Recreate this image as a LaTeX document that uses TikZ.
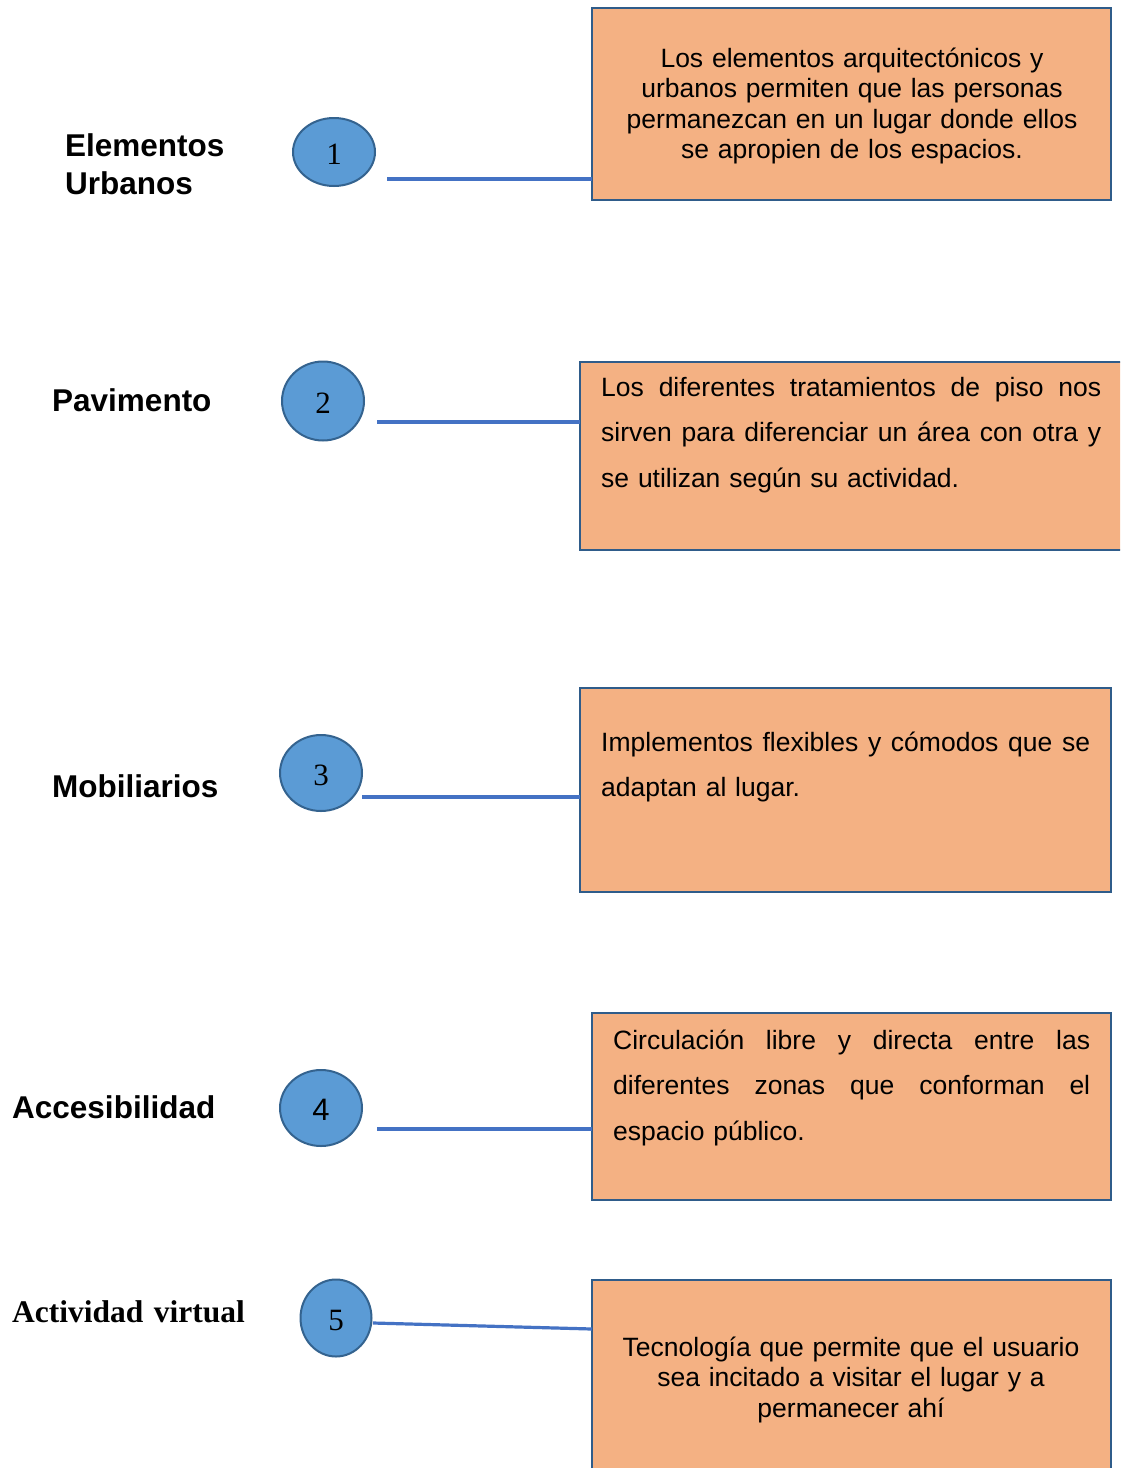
\documentclass[tikz,border=0pt]{standalone}
\usepackage{fontspec}
\setmainfont{Liberation Sans}
\newfontfamily\timesf{Liberation Serif}
\usetikzlibrary{shapes.geometric}
\definecolor{peach}{HTML}{F4B183}
\definecolor{boxline}{HTML}{2F5C8A}
\definecolor{circfill}{HTML}{5B9BD5}
\definecolor{circline}{HTML}{34638F}
\definecolor{connblue}{HTML}{4472C4}
\newcommand\jline[2]{\makebox[#1][s]{\spaceskip=0.25em plus 1fil\xspaceskip=0.25em plus 1fil\relax #2}}
\newcommand\lowdigit[1]{\raisebox{-2pt}[\height][0pt]{#1}}
\begin{document}
\begin{tikzpicture}[x=1pt,y=-1pt,
  infobox/.style={draw=boxline, line width=2pt, fill=peach, anchor=north west, inner sep=0, outer sep=0},
  num/.style={ellipse, draw=circline, line width=2pt, fill=circfill, inner sep=0, font=\timesf\fontsize{31}{34}\selectfont},
  connector/.style={draw=connblue, line width=3.2pt},
  lbl/.style={anchor=base west, inner sep=0, text width=260pt, align=left, font=\fontsize{31.5}{38}\selectfont\bfseries},
  ctext/.style={anchor=base, inner sep=0, text width=490pt, align=center, font=\fontsize{26.5}{30.5}\selectfont},
  jtext/.style={anchor=base west, inner sep=0, align=left, font=\fontsize{26.5}{45.7}\selectfont}]
\useasboundingbox (0,0) rectangle (1120,1468);
\clip (0,0) rectangle (1120,1468);
\fill[white] (0,0) rectangle (1120,1468);

% boxes
\node[infobox, minimum width=519pt, minimum height=192pt] (b1) at (592,8) {};
\node[infobox, minimum width=545pt, minimum height=188pt] (b2) at (580,362) {};
\node[infobox, minimum width=531pt, minimum height=204pt] (b3) at (580,688) {};
\node[infobox, minimum width=519pt, minimum height=187pt] (b4) at (592,1013) {};
\node[infobox, minimum width=519pt, minimum height=205pt] (b5) at (592,1280) {};

% box texts
\node[ctext] (t1) at (852,67) {Los elementos arquitectónicos y\\urbanos permiten que las personas\\permanezcan en un lugar donde ellos\\se apropien de los espacios.};
\node[jtext, text width=500pt] (t2) at (601,396) {\jline{500pt}{Los diferentes tratamientos de piso nos}\\\jline{500pt}{sirven para diferenciar un área con otra y}\\se utilizan según su actividad.};
\node[jtext, text width=489pt] (t3) at (601,751) {\jline{489pt}{Implementos flexibles y cómodos que se}\\adaptan al lugar.};
\node[jtext, text width=477pt] (t4) at (613,1049) {\jline{477pt}{Circulación libre y directa entre las}\\\jline{477pt}{diferentes zonas que conforman el}\\espacio público.};
\node[ctext] (t5) at (851,1356) {Tecnología que permite que el usuario\\sea incitado a visitar el lugar y a\\permanecer ahí};

% labels
\node[lbl] (l1) at (65,156) {Elementos\\Urbanos};
\node[lbl] (l2) at (52,411) {Pavimento};
\node[lbl] (l3) at (52,797) {Mobiliarios};
\node[lbl] (l4) at (12,1118) {Accesibilidad};
\node[lbl, font=\timesf\fontsize{31.5}{38}\selectfont\bfseries] (l5) at (12,1322) {Actividad virtual};

% circles
\node[num, minimum width=82pt, minimum height=68pt] (c1) at (334,152) {\lowdigit{1}};
\node[num, minimum width=82pt, minimum height=79pt] (c2) at (323,401) {\lowdigit{2}};
\node[num, minimum width=82pt, minimum height=76pt] (c3) at (321,773) {\lowdigit{3}};
\node[num, minimum width=82pt, minimum height=76pt, font=\fontsize{31}{34}\selectfont] (c4) at (321,1108) {\lowdigit{4}};
\node[num, minimum width=71pt, minimum height=77pt] (c5) at (336,1318) {\lowdigit{5}};

% connectors
\coordinate (s1) at (387,179);
\coordinate (s2) at (377,422);
\coordinate (s3) at (362,797);
\coordinate (s4) at (377,1129);
\coordinate (s5) at (373,1323);
\coordinate (e5) at (592,1329);
\draw[connector] (s1) -- (s1 -| b1.west);
\draw[connector] (s2) -- (s2 -| b2.west);
\draw[connector] (s3) -- (s3 -| b3.west);
\draw[connector] (s4) -- (s4 -| b4.west);
\draw[connector] (s5) -- (e5);
\end{tikzpicture}
\end{document}
